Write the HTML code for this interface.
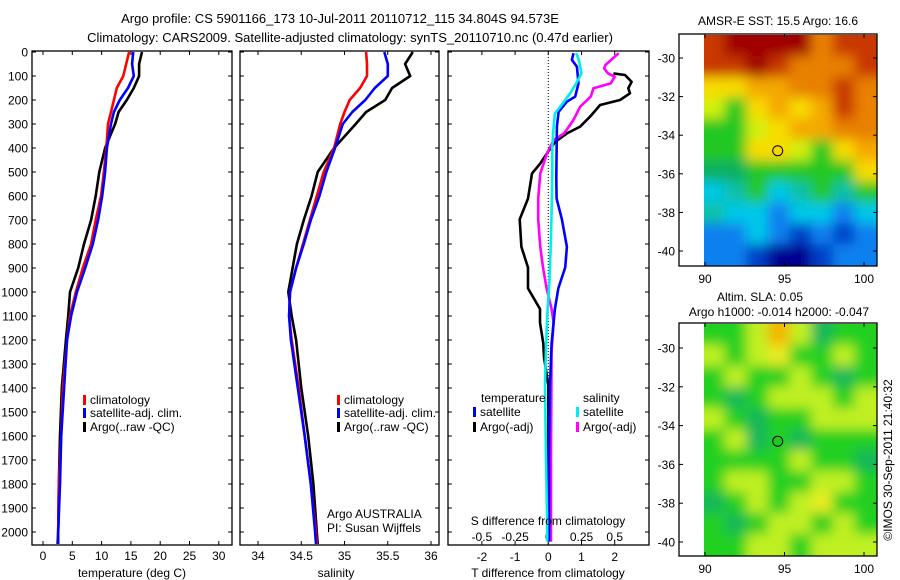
<!DOCTYPE html>
<html><head><meta charset="utf-8">
<style>
html,body{margin:0;padding:0;background:#fff;}
svg{display:block;font-family:"Liberation Sans",Arial,sans-serif;}
</style></head>
<body>
<svg id="chart" width="900" height="580" viewBox="0 0 900 580" xmlns="http://www.w3.org/2000/svg">
<defs>
<clipPath id="clipMap1"><rect x="704" y="35" width="173" height="231"/></clipPath>
<clipPath id="clipMap2"><rect x="704" y="324" width="173" height="232"/></clipPath>
<filter id="soft" x="-10%" y="-10%" width="120%" height="120%"><feGaussianBlur stdDeviation="6"/></filter>
</defs>
<text x="340" y="23" font-size="13" text-anchor="middle">Argo profile: CS 5901166_173 10-Jul-2011 20110712_115 34.804S 94.573E</text>
<text x="350" y="42" font-size="13" text-anchor="middle">Climatology: CARS2009. Satellite-adjusted climatology: synTS_20110710.nc (0.47d earlier)</text>
<g id="g"></g>
</svg>
<script>
// ---- data ----
const depths = [0,50,100,150,200,250,300,400,500,600,700,800,900,1000,1100,1200,1400,1600,1800,2000,2050];
const tempClim = [14.7,14.2,13.7,12.6,12.1,11.6,11.1,10.8,10.4,9.9,9.0,8.2,6.8,5.6,4.6,4.1,3.4,3.1,2.7,2.6,2.6];
const tempSat  = [15.4,15.2,15.5,14.5,13.1,12.1,11.6,10.9,10.6,10.1,9.4,8.5,7.2,5.8,4.8,4.1,3.6,3.1,2.9,2.6,2.6];
const tempArgo = [16.9,16.4,16.4,15.5,14.3,12.9,12.3,10.6,9.6,9.0,8.2,7.0,6.0,4.6,4.3,3.9,3.2,2.9,2.7,2.6,2.5];
const salClim = [35.25,35.26,35.26,35.18,35.06,35.0,34.95,34.88,34.76,34.68,34.60,34.52,34.44,34.37,34.36,34.39,34.47,34.54,34.61,34.67,34.68];
const salSat  = [35.46,35.50,35.50,35.35,35.24,35.09,34.98,34.89,34.79,34.71,34.61,34.53,34.44,34.37,34.36,34.38,34.46,34.54,34.61,34.66,34.67];
const salArgo = [35.79,35.70,35.76,35.55,35.47,35.25,35.13,34.88,34.69,34.62,34.53,34.45,34.40,34.35,34.39,34.44,34.50,34.58,34.64,34.68,34.69];
const tSatDepth = [5,33,61,131,186,207,249,311,524,611,697,812,898,985,1071,1214,1387,1674,2040];
const tSatDiff  = [0.76,0.71,0.86,0.91,0.81,0.56,0.31,0.26,0.24,0.25,0.41,0.56,0.51,0.30,0.20,0.10,0.05,0.02,0.02];
const tArgoDepth = [89,96,124,151,172,200,221,269,311,339,374,422,464,506,611,697,812,898,985,1071,1128,1214,1272,1387,2040];
const tArgoDiff  = [1.96,2.31,2.51,2.41,2.46,2.16,1.56,1.26,0.96,0.56,0.21,-0.04,-0.24,-0.49,-0.61,-0.86,-0.81,-0.61,-0.61,-0.25,-0.25,-0.15,-0.13,0,0];
const sSatDepth = [5,33,89,131,172,228,256,311,394,506,668,812,956,1100,1243,1387,1674,1962,2040];
const sSatDiff  = [0.21,0.23,0.25,0.21,0.165,0.09,0.05,0.04,0.03,0.03,0.025,0.018,0.008,-0.008,-0.018,-0.025,-0.018,-0.008,-0.008];
const sArgoDepth = [5,54,68,89,103,131,151,186,228,283,339,367,422,506,611,697,812,898,985,1071,1128,1243,1674,2040];
const sArgoDiff  = [0.53,0.43,0.42,0.45,0.50,0.47,0.34,0.32,0.24,0.19,0.12,0.04,-0.01,-0.06,-0.076,-0.076,-0.06,-0.04,-0.013,0.025,0.04,0.025,0.02,0.02];
const depthTicks = [0,100,200,300,400,500,600,700,800,900,1000,1100,1200,1300,1400,1500,1600,1700,1800,1900,2000];
const tempTicks = [0,5,10,15,20,25,30];
const salTicks = [34,34.5,35,35.5,36];
const tDiffTicks = [-2,-1,0,1,2];
const sDiffTicks = [-0.5,-0.25,0,0.25,0.5];
const sstRows = [
 "R DR DR DR DR O R R","R R DR R O O O R","Y Y OY OY O O R O","YG G Y OY Y OY R O",
 "G G YG Y OY OY O O","G G Y Y YG G Y OY","GT GT G G G G G Y","C T G C T G T G",
 "T C C B C C B C","B B C B DB B DB B","B B DB NB NB DB B B"];
const slaRows = [
 "G G YG O YG GT G G","YG G YG Y G G YG G","G YG G G YG G GT G","G GT G YG YG YG G YG",
 "YG G GT G G YG YG YG","G YG GT G GT G G G","G G G G YG G G GT","G YG YG G G YG YG G",
 "GT G YG G YG Y G G","G GT G YG YG G YG G","G G YG YG G YG YG YG"];
const lonTicks = [90,95,100];
const latTicks = [-30,-32,-34,-36,-38,-40];
const argoLon = 94.573, argoLat = -34.804;

// ---- helpers ----
const NS="http://www.w3.org/2000/svg";
const root=document.getElementById('g');
function mk(tag,attrs,parent){const e=document.createElementNS(NS,tag);for(const k in attrs)e.setAttribute(k,attrs[k]);(parent||root).appendChild(e);return e;}
const yD = d => 52 + d*0.24;
const xT = t => 43 + t*5.86;
const xS = s => 258 + (s-34)*86.5;
const xTD = t => 548.3 + t*33.2;
const xSD = s => 548.3 + s*4*33.2;

function box(x0,y0,x1,y1,name){
  const r=mk('rect',{x:x0,y:y0,width:x1-x0,height:y1-y0,fill:'none',stroke:'#000','stroke-width':1.3});
  
  
}
function line(xs,ds,fx,color,name,w){
  let p='';for(let i=0;i<xs.length;i++){p+=(i?'L':'M')+fx(xs[i]).toFixed(1)+','+yD(ds[i]).toFixed(1);}
  const e=mk('path',{d:p,fill:'none',stroke:color,'stroke-width':w||2.6,'stroke-linejoin':'round'});
  
  
}
function txt(x,y,s,opts,name){
  const e=mk('text',Object.assign({x:x,y:y,'font-size':12},opts||{}));e.textContent=s;
  
  
  return e;
}
function depthTicksFor(x0,x1,labels){
  depthTicks.forEach(d=>{
    const y=yD(d);
    mk('line',{x1:x0,y1:y,x2:x0+4,y2:y,stroke:'#000'});
    mk('line',{x1:x1,y1:y,x2:x1-4,y2:y,stroke:'#000'});
    if(labels) txt(28,y+4.5,String(d),{'text-anchor':'end'},'depth-tick-label');
  });
}
function xTicks(vals,fx,yTop,yBot,ly,name){
  vals.forEach(v=>{
    const x=fx(v);
    mk('line',{x1:x,y1:yBot,x2:x,y2:yBot-4,stroke:'#000'});
    mk('line',{x1:x,y1:yTop,x2:x,y2:yTop+4,stroke:'#000'});
    if(ly) txt(x,ly,String(v),{'text-anchor':'middle'},name);
  });
}
function legendEntry(x,y,color,label){
  const r=mk('rect',{x:x,y:y-9,width:3,height:10,fill:color});
  
  
  txt(x+7,y,label,{},'legend-entry');
}

// ---- panel 1: temperature ----
box(32,51,232,545,'temperature-panel');
depthTicksFor(32,232,true);
xTicks(tempTicks,xT,51,545,560,'temperature-tick-label');
line(tempArgo,depths,xT,'#000','temperature-argo-line');
line(tempClim,depths,xT,'#f00','temperature-climatology-line');
line(tempSat,depths,xT,'#00f','temperature-satellite-line');
txt(132,577,'temperature (deg C)',{'text-anchor':'middle'},'x-axis-title-temperature');
legendEntry(83,404,'#f00','climatology');
legendEntry(83,417,'#00f','satellite-adj. clim.');
legendEntry(83,431,'#000','Argo(..raw -QC)');

// ---- panel 2: salinity ----
box(240,51,439,545,'salinity-panel');
depthTicksFor(240,439,false);
xTicks(salTicks,xS,51,545,560,'salinity-tick-label');
line(salArgo,depths,xS,'#000','salinity-argo-line');
line(salClim,depths,xS,'#f00','salinity-climatology-line');
line(salSat,depths,xS,'#00f','salinity-satellite-line');
txt(336,577,'salinity',{'text-anchor':'middle'},'x-axis-title-salinity');
legendEntry(337,404,'#f00','climatology');
legendEntry(337,417,'#00f','satellite-adj. clim.');
legendEntry(337,431,'#000','Argo(..raw -QC)');
txt(327,518,'Argo AUSTRALIA',{},'institution-label');
txt(327,532,'PI: Susan Wijffels',{},'pi-label');

// ---- panel 3: differences ----
box(448,51,649,545,'difference-panel');
depthTicksFor(448,649,false);
xTicks(tDiffTicks,xTD,51,545,561,'t-diff-tick-label');
sDiffTicks.forEach(v=>{ txt(xSD(v),541,String(v),{'text-anchor':'middle'},'s-diff-tick-label'); });
const zl=mk('line',{x1:xTD(0),y1:51,x2:xTD(0),y2:545,stroke:'#000','stroke-dasharray':'1,2','stroke-width':1});


line(tArgoDiff,tArgoDepth,xTD,'#000','t-diff-argo-line');
line(sArgoDiff,sArgoDepth,xSD,'#f0f','s-diff-argo-line');
line(tSatDiff,tSatDepth,xTD,'#00f','t-diff-satellite-line');
line(sSatDiff,sSatDepth,xSD,'#0ee','s-diff-satellite-line');
txt(481,402,'temperature',{},'legend-title-temperature');
legendEntry(473,416,'#00f','satellite');
legendEntry(473,431,'#000','Argo(-adj)');
txt(583,402,'salinity',{},'legend-title-salinity');
legendEntry(576,416,'#0ee','satellite');
legendEntry(576,431,'#f0f','Argo(-adj)');
txt(548,525,'S difference from climatology',{'text-anchor':'middle'},'s-diff-axis-title');
txt(548,577,'T difference from climatology',{'text-anchor':'middle'},'t-diff-axis-title');

// ---- maps ----
const pal={DR:'#a00000',R:'#c83800',O:'#e88000',OY:'#f4a800',Y:'#f8dc00',YG:'#d0f010',G:'#22c822',GT:'#10b060',T:'#10c0a8',C:'#00c8e8',B:'#1080f0',DB:'#0040c8',NB:'#000090'};
const pal2={G:'#22d022',GT:'#18b858',YG:'#c0f020',Y:'#e8ec20',O:'#f4b400'};
const xLon = (lon)=>705+(lon-90)*15.9;
function drawMap(rows,colors,y0,h,clip,latY0,latScale,name,mapIdx){
  const grp=mk('g',{'clip-path':'url(#'+clip+')'});
  
  
  const inner=mk('g',{filter:'url(#soft)'},grp);
  const nr=rows.length, cw=173/8, ch=h/nr;
  // pad edges so blur doesn't fade to white
  mk('rect',{x:690,y:y0-20,width:200,height:h+40,fill:colors[rows[0].split(' ')[0]]},inner);
  rows.forEach((r,ri)=>{
    const cells=r.split(' ');
    cells.forEach((c,ci)=>{
      let x=704+ci*cw-1, w=cw+2, y=y0+ri*ch-1, hh=ch+2;
      if(ci===0){x-=15;w+=15;} if(ci===cells.length-1){w+=15;}
      if(ri===0){y-=15;hh+=15;} if(ri===nr-1){hh+=15;}
      mk('rect',{x:x.toFixed(1),y:y.toFixed(1),width:w.toFixed(1),height:hh.toFixed(1),fill:colors[c]},inner);
    });
  });
  box(679,y0-2,877,y0+h,name+'-frame');
  const yLat=l=>latY0+(-30-l)*latScale;
  latTicks.forEach(l=>{const y=yLat(l);
    mk('line',{x1:679,y1:y,x2:683,y2:y,stroke:'#000'});mk('line',{x1:877,y1:y,x2:873,y2:y,stroke:'#000'});
    txt(675,y+4.5,String(l),{'text-anchor':'end'},'latitude-tick-label');});
  lonTicks.forEach(l=>{const x=xLon(l);
    mk('line',{x1:x,y1:y0+h,x2:x,y2:y0+h-4,stroke:'#000'});mk('line',{x1:x,y1:y0-2,x2:x,y2:y0+2,stroke:'#000'});
    txt(x,y0+h+17,String(l),{'text-anchor':'middle'},'longitude-tick-label');});
  const c=mk('circle',{cx:xLon(argoLon),cy:yLat(argoLat),r:5,fill:mapIdx===1?'#f0d800':'#22c822',stroke:'#000','stroke-width':1});
  
  
}
drawMap(sstRows,pal,36,230,'clipMap1',58,19.3,'sst-map',1);
drawMap(slaRows,pal2,325,231,'clipMap2',348,19.4,'sla-map',2);
txt(778,25,'AMSR-E SST: 15.5 Argo: 16.6',{'text-anchor':'middle'},'sst-map-title');
txt(760,301,'Altim. SLA: 0.05',{'text-anchor':'middle'},'sla-map-title');
txt(779,316,'Argo h1000: -0.014 h2000: -0.047',{'text-anchor':'middle'},'sla-argo-title');
txt(0,0,'©IMOS 30-Sep-2011 21:40:32',{'text-anchor':'middle',transform:'translate(892,460) rotate(-90)'},'copyright-timestamp');
</script>
</body></html>
